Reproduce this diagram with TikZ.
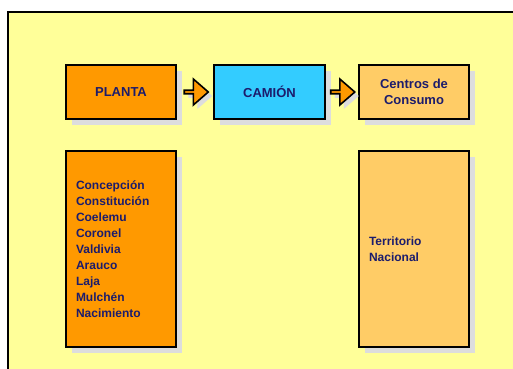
\documentclass[tikz,border=0pt]{standalone}
\usepackage{fontspec}
\setmainfont{Liberation Sans}
\usetikzlibrary{calc, positioning, shadows, shapes.arrows}

\definecolor{fondo}{HTML}{FFFF99}
\definecolor{naranja}{HTML}{FF9900}
\definecolor{celeste}{HTML}{33CCFF}
\definecolor{durazno}{HTML}{FFCC66}
\definecolor{sombra}{HTML}{DDDDDD}
\definecolor{tinta}{HTML}{1C1C6C}

\tikzset{
  caja/.style   = {draw=black, line width=1.6pt, minimum width=110.5pt, inner sep=0pt,
                   text=tinta, font=\bfseries\fontsize{13}{16}\selectfont,
                   drop shadow={shadow xshift=6pt, shadow yshift=-6pt, fill=sombra, opacity=1}},
  lista/.style  = {caja, minimum height=196.5pt, inner xsep=10pt, text width=90pt, align=left,
                   font=\bfseries\fontsize{12}{16}\selectfont},
  flecha/.style = {single arrow, draw=black, fill=naranja, line width=1.6pt, inner sep=0pt,
                   minimum height=24pt, minimum width=26pt, single arrow head extend=5pt,
                   single arrow tip angle=82,
                   drop shadow={shadow xshift=4pt, shadow yshift=-4pt, fill=sombra, opacity=1}}
}

\begin{document}
\begin{tikzpicture}[x=1pt, y=-1pt, on grid]
  \useasboundingbox (0,0) rectangle (513,368);
  % Fondo
  \draw[line width=1.6pt, fill=fondo] (8,12) rectangle (530,390);

  % Cajas superiores
  \node[caja, fill=naranja, minimum height=54.5pt] (planta) at (121,92)   {PLANTA};
  \node[caja, fill=celeste, minimum height=54.5pt] (camion) [right=148.5pt of planta] {CAMIÓN};
  \node[caja, fill=durazno, minimum height=54.5pt, align=center] (centros) [right=144.5pt of camion]
       {Centros de\\Consumo};

  % Cajas inferiores
  \node[lista, fill=naranja] (plantas)    [below=157pt of planta]
       {Concepción\\Constitución\\Coelemu\\Coronel\\Valdivia\\Arauco\\Laja\\Mulchén\\Nacimiento};
  \node[lista, fill=durazno] (territorio) [below=157pt of centros]
       {Territorio\\Nacional};

  % Flechas
  \node[flecha] (f1) at ($(planta.east)!0.5!(camion.west)$) {};
  \node[flecha] (f2) at ($(camion.east)!0.5!(centros.west)$) {};
\end{tikzpicture}
\end{document}
